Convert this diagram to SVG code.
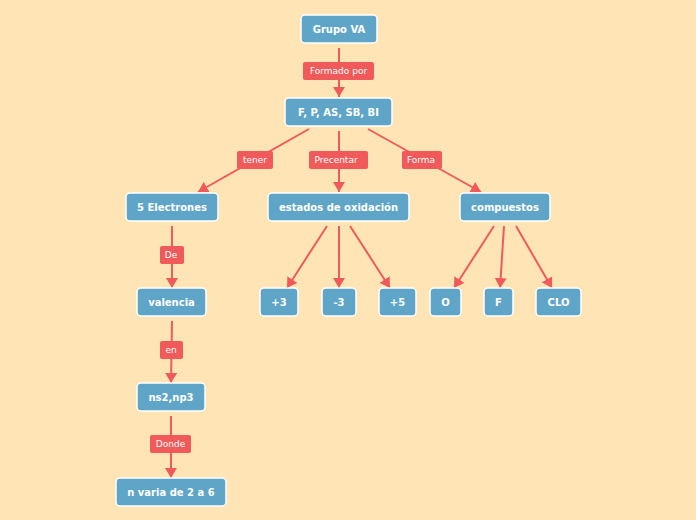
<svg xmlns="http://www.w3.org/2000/svg" width="696" height="520" viewBox="0 0 696 520">
<style>
.n rect{fill:#5FA5C8;stroke:#fff;stroke-width:1.5}
.n text{fill:#fff;font-family:"DejaVu Sans",Verdana,sans-serif;font-size:10px;font-weight:bold;text-anchor:middle;dominant-baseline:central}
.l rect{fill:#F05A5A}
.l text{fill:#fff;font-family:"DejaVu Sans",Verdana,sans-serif;font-size:9px;text-anchor:middle;dominant-baseline:central}
.c line{stroke:#F05A5A;stroke-width:2;marker-end:url(#a)}
</style>
<defs>
<marker id="a" markerUnits="userSpaceOnUse" markerWidth="12" markerHeight="12" viewBox="0 0 12 12" refX="10" refY="6" orient="auto">
<path d="M0,0 L10,6 L0,12 z" fill="#F05A5A"/>
</marker>
</defs>
<rect width="696" height="520" fill="#FFE5B5"/>
<g id="connectors" class="c">
<line x1="339" y1="48" x2="339" y2="97"/>
<line x1="309" y1="129" x2="198" y2="192"/>
<line x1="339" y1="131" x2="339" y2="192"/>
<line x1="368" y1="129" x2="481" y2="192"/>
<line x1="327" y1="226" x2="287" y2="288"/>
<line x1="339" y1="226" x2="339" y2="288"/>
<line x1="350" y1="226" x2="390" y2="288"/>
<line x1="494" y1="226" x2="454" y2="288"/>
<line x1="504" y1="226" x2="500" y2="288"/>
<line x1="516" y1="226" x2="552" y2="288"/>
<line x1="172" y1="226" x2="172" y2="288"/>
<line x1="172" y1="321" x2="171" y2="383"/>
<line x1="171" y1="416" x2="171" y2="478"/>
</g>
<g id="lbl-formado" class="l"><rect x="303" y="62" width="71" height="18" rx="2"/><text x="338.5" y="71">Formado por</text></g>
<g id="lbl-tener" class="l"><rect x="237" y="151" width="36" height="18" rx="2"/><text x="255" y="160">tener</text></g>
<g id="lbl-precentar" class="l"><rect x="309" y="151" width="59" height="18" rx="2"/><text x="336" y="160">Precentar</text></g>
<g id="lbl-forma" class="l"><rect x="402" y="151" width="40" height="18" rx="2"/><text x="421" y="160">Forma</text></g>
<g id="lbl-de" class="l"><rect x="160" y="246" width="24" height="18" rx="2"/><text x="171" y="255">De</text></g>
<g id="lbl-en" class="l"><rect x="160" y="341" width="23" height="18" rx="2"/><text x="171" y="350">en</text></g>
<g id="lbl-donde" class="l"><rect x="150" y="435" width="41" height="18" rx="2"/><text x="170.5" y="444">Donde</text></g>
<g id="n-grupo" class="n"><rect x="301" y="15" width="76" height="28" rx="4"/><text x="339" y="29">Grupo VA</text></g>
<g id="n-fp" class="n"><rect x="285" y="98" width="107" height="28" rx="4"/><text x="338.5" y="112">F, P, AS, SB, BI</text></g>
<g id="n-5e" class="n"><rect x="126" y="193" width="92" height="28" rx="4"/><text x="172" y="207">5 Electrones</text></g>
<g id="n-estados" class="n"><rect x="268" y="193" width="141" height="28" rx="4"/><text x="338.5" y="207">estados de oxidación</text></g>
<g id="n-comp" class="n"><rect x="460" y="193" width="90" height="28" rx="4"/><text x="505" y="207">compuestos</text></g>
<g id="n-p3" class="n"><rect x="260" y="288" width="38" height="28" rx="4"/><text x="279" y="302">+3</text></g>
<g id="n-m3" class="n"><rect x="322" y="288" width="34" height="28" rx="4"/><text x="339" y="302">-3</text></g>
<g id="n-p5" class="n"><rect x="379" y="288" width="37" height="28" rx="4"/><text x="397.5" y="302">+5</text></g>
<g id="n-o" class="n"><rect x="430" y="288" width="31" height="28" rx="4"/><text x="445.5" y="302">O</text></g>
<g id="n-f" class="n"><rect x="484" y="288" width="29" height="28" rx="4"/><text x="498.5" y="302">F</text></g>
<g id="n-clo" class="n"><rect x="536" y="288" width="45" height="28" rx="4"/><text x="558.5" y="302">CLO</text></g>
<g id="n-valencia" class="n"><rect x="137" y="288" width="69" height="28" rx="4"/><text x="171.5" y="302">valencia</text></g>
<g id="n-ns2" class="n"><rect x="137" y="383" width="68" height="28" rx="4"/><text x="171" y="397">ns2,np3</text></g>
<g id="n-nvaria" class="n"><rect x="116" y="478" width="110" height="28" rx="4"/><text x="171" y="492">n varia de 2 a 6</text></g>
</svg>
